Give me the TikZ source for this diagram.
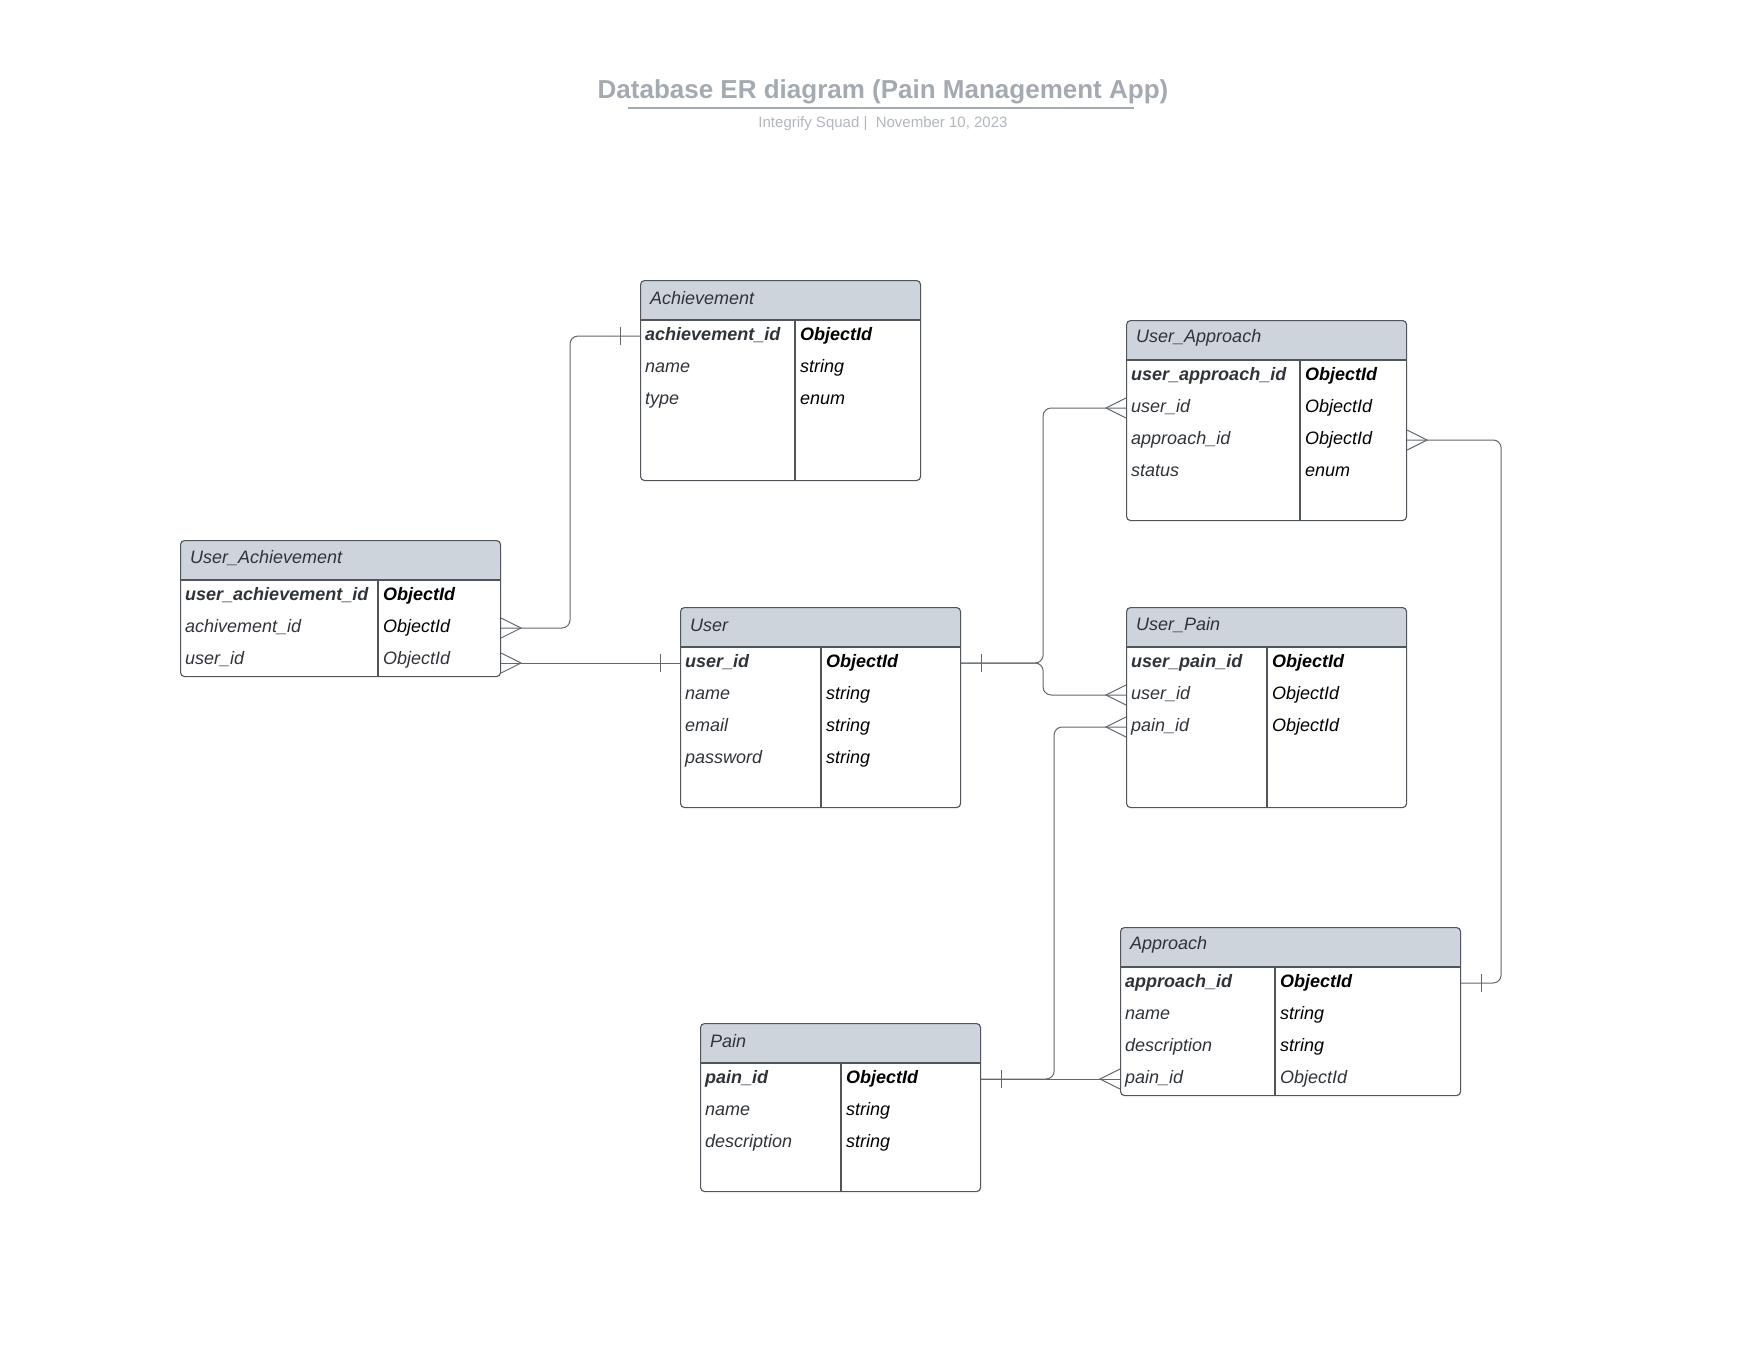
\documentclass[tikz,border=0pt]{standalone}
\usepackage{fontspec}
\setmainfont{Liberation Sans}
\definecolor{ERHead}{HTML}{CED4DB}
\definecolor{ERLine}{HTML}{50555C}
\definecolor{ERWire}{HTML}{62676E}
\definecolor{ERText}{HTML}{30343A}
\definecolor{ERTitle}{HTML}{A4AAB2}
\usetikzlibrary{positioning,calc}

% table: name, position, width, height, column split, title, rows
\newcommand{\ertable}[7]{%
  \node[tbl, minimum width=#3pt, minimum height=#4pt] (#1) at (#2) {};
  \node[hdr] (#1-h) at ([xshift=10pt, yshift=-18pt]#1.north west) {#6};
  \draw[colline] ([yshift=-40pt]#1.north west) -- ([yshift=-40pt]#1.north east);
  \draw[colline] ([xshift=#5pt, yshift=-40pt]#1.north west) -- ([xshift=#5pt]#1.south west);
  \foreach \fname/\ftype [count=\i] in {#7}{
    \node[fld] (#1-\i) at ([xshift=5pt, yshift=-24pt-32pt*\i]#1.north west) {\fname};
    \node[typ] (#1-t\i) at ([xshift=#5pt+5pt, yshift=-24pt-32pt*\i]#1.north west) {\ftype};
  }%
}

\begin{document}
\begin{tikzpicture}[x=1pt, y=-1pt,
    tbl/.style={rectangle, rounded corners=4pt, draw=ERLine, fill=white, line width=1.1pt,
      anchor=north west, inner sep=0pt,
      path picture={\fill[ERHead] (path picture bounding box.north west) rectangle
        ([yshift=-40pt]path picture bounding box.north east);}},
    hdr/.style={anchor=west, inner sep=0pt, text=ERText, font=\fontsize{18}{22}\selectfont\itshape},
    fld/.style={anchor=west, inner sep=0pt, text height=13pt, text depth=4pt, text=ERText,
      font=\fontsize{18}{22}\selectfont\itshape},
    typ/.style={fld, text=black},
    colline/.style={draw=ERLine, line width=1.1pt},
    wire/.style={draw=ERWire, line width=1pt, rounded corners=8pt},
    crow/.pic={\draw[ERWire, line width=1pt, sharp corners] (0,-10) -- (-20,0) -- (0,10);},
    one/.pic={\draw[ERWire, line width=1pt] (-20,-9) -- (-20,9);}]
  \fill[white] (0,0) rectangle (1760,1360);
  \useasboundingbox (0,0) rectangle (1760,1360);

  % title
  \node[font=\fontsize{26}{30}\selectfont\bfseries, text=ERTitle, inner sep=0pt] (title) at (883,92)
    {Database ER diagram (Pain Management App)};
  \draw[ERTitle, line width=2pt] (628,108) -- (1134,108);
  \node[font=\fontsize{15}{18}\selectfont, text=ERTitle!85, inner sep=0pt] (subtitle) at (883,124)
    {Integrify Squad |\ \ November 10, 2023};

  % tables
  \ertable{ach}{640,280}{280}{200}{155}{Achievement}
    {{\bfseries achievement\_id}/{\bfseries ObjectId}, name/string, type/enum}
  \ertable{ua}{180,540}{320}{136}{198}{User\_Achievement}
    {{\bfseries user\_achievement\_id}/{\bfseries ObjectId}, achivement\_id/ObjectId,
     user\_id/{\color{ERText}ObjectId}}
  \ertable{usr}{680,607}{280}{200}{141}{User}
    {{\bfseries user\_id}/{\bfseries ObjectId}, name/string, email/string, password/string}
  \ertable{uap}{1126,320}{280}{200}{174}{User\_Approach}
    {{\bfseries user\_approach\_id}/{\bfseries ObjectId}, user\_id/ObjectId,
     approach\_id/ObjectId, status/enum}
  \ertable{upn}{1126,607}{280}{200}{141}{User\_Pain}
    {{\bfseries user\_pain\_id}/{\bfseries ObjectId}, user\_id/ObjectId, pain\_id/ObjectId}
  \ertable{pain}{700,1023}{280}{168}{141}{Pain}
    {{\bfseries pain\_id}/{\bfseries ObjectId}, name/string, description/string}
  \ertable{app}{1120,927}{340}{168}{155}{Approach}
    {{\bfseries approach\_id}/{\bfseries ObjectId}, name/string, description/string,
     pain\_id/{\color{ERText}ObjectId}}

  % relations
  \draw[wire] (ach.west |- ach-1) -- ++(-70,0) |- (ua.east |- ua-2);
  \path (ach.west |- ach-1) pic{one};
  \path (ua.east |- ua-2) pic[xscale=-1]{crow};

  \draw[wire] (ua.east |- usr-1) -- (usr.west |- usr-1);
  \path (ua.east |- usr-1) pic[xscale=-1]{crow};
  \path (usr.west |- usr-1) pic{one};

  \draw[wire] (usr.east |- usr-1) -- ++(82,0) |- (uap.west |- uap-2);
  \draw[wire] (usr.east |- usr-1) -- ++(82,0) |- (upn.west |- upn-2);
  \path (usr.east |- usr-1) pic[xscale=-1]{one};
  \path (uap.west |- uap-2) pic{crow};
  \path (upn.west |- upn-2) pic{crow};

  \draw[wire] (pain.east |- pain-1) -- ++(73,0) |- (upn.west |- upn-3);
  \draw[wire] (pain.east |- pain-1) -- (app.west |- pain-1);
  \path (pain.east |- pain-1) pic[xscale=-1]{one};
  \path (upn.west |- upn-3) pic{crow};
  \path (app.west |- pain-1) pic{crow};

  \draw[wire] (uap.east |- uap-3) -- ++(94,0) |- (app.east |- app-1);
  \path (uap.east |- uap-3) pic[xscale=-1]{crow};
  \path (app.east |- app-1) pic[xscale=-1]{one};
\end{tikzpicture}
\end{document}
